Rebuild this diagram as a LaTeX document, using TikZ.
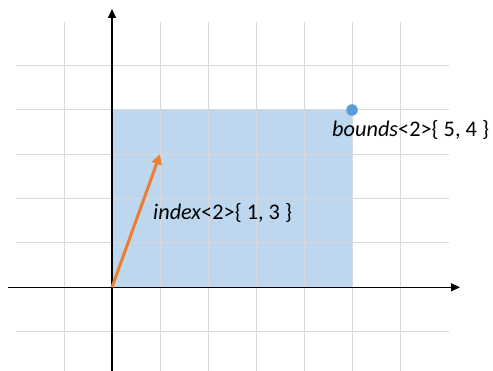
\documentclass[tikz,border=0pt]{standalone}
\usepackage{fontspec}
\setmainfont{Carlito}
\usetikzlibrary{arrows.meta}
\begin{document}
\begin{tikzpicture}[x=1pt,y=-1pt,
  gridline/.style={draw=black!15,line width=1pt},
  axis/.style={draw=black,line width=1.3pt,-{Triangle[length=9pt,width=8pt]}},
  lbl/.style={font=\fontsize{22.3}{25}\selectfont,inner sep=0pt}]
\useasboundingbox (0,0) rectangle (493,371);
\fill[fill={rgb,255:red,189;green,215;blue,238}] (112,110) rectangle (352,287);
\foreach \x in {64,112,160,208,256,304,352,400} \draw[gridline] (\x,22) -- (\x,371);
\foreach \y in {66,110,154.3,198.6,243,287.3,332} \draw[gridline] (16,\y) -- (449,\y);
\coordinate (o) at (112,287.3);
\coordinate (ytip) at (112,9);
\coordinate (ybot) at (112,371);
\coordinate (xl) at (8,287.3);
\coordinate (xtip) at (460,287.3);
\coordinate (idx) at (160,154.3);
\draw[axis] (ybot) -- (ytip);
\draw[axis] (xl) -- (xtip);
\draw[line width=3pt,draw={rgb,255:red,237;green,125;blue,49},-{Triangle[length=10pt,width=10pt]}] (o) -- (idx);
\node[circle,fill={rgb,255:red,91;green,155;blue,213},minimum size=11.5pt,inner sep=0pt] (b) at (352,110) {};
\node[lbl,anchor=base west] (bl) at (332,137) {\textit{bounds}<2>\{ 5, 4 \}};
\node[lbl,anchor=base west] (il) at (153,220) {\textit{index}<2>\{ 1, 3 \}};
\end{tikzpicture}
\end{document}
